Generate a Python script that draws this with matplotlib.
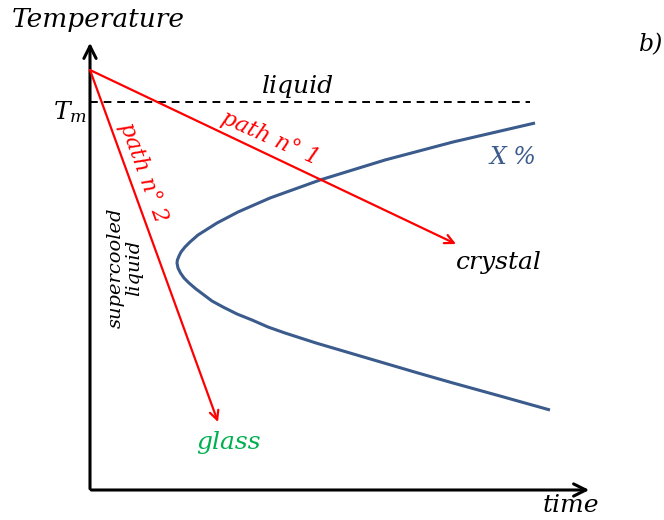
import numpy as np
import matplotlib.pyplot as plt

plt.rcParams['font.family'] = ['DejaVu Serif']
plt.rcParams['mathtext.fontset'] = 'dejavuserif'

# schematic data (time, temperature), arbitrary units
t_max, T_max = 502, 450
T_m = 388
start = (0, 420)
path1_end = (366, 246)
path2_end = (128, 68)

# X% curve (upper branch, nose, lower branch)
curve_time = [445, 363, 295, 230, 180, 148, 127, 108, 100, 95, 91, 89, 87.4, 87,
              88, 90.5, 94, 99, 106, 114, 122, 133, 147, 162, 178, 195, 226, 260,
              294, 328, 363, 410, 460]
curve_temp = [367, 348, 330, 310, 292, 278, 267, 255, 248, 243, 238, 234, 230, 227,
              222, 217, 212, 207, 201, 195, 189, 183, 176, 170, 163, 157, 147, 137,
              127, 117, 107, 94, 80]

RED = '#ff0000'
BLUE = '#3b5b8c'
GREEN = '#00b050'

fig = plt.figure(figsize=(6.64, 5.2), dpi=100)
ax = fig.add_axes([0, 0, 1, 1])
ax.set_xlim(-90, 574)
ax.set_ylim(-30, 490)
ax.axis('off')

# axes arrows
ax.annotate('', xy=(t_max, 0), xytext=(-1.5, 0),
            arrowprops=dict(arrowstyle='->', lw=2.2, color='black', mutation_scale=22))
ax.annotate('', xy=(0, T_max), xytext=(0, -1.5),
            arrowprops=dict(arrowstyle='->', lw=2.2, color='black', mutation_scale=22))

# melting temperature
ax.plot([0, 440], [T_m, T_m], ls=(0, (4, 3)), color='black', lw=1.4)

# X% curve
ax.plot(curve_time, curve_temp, color=BLUE, lw=2.2, solid_capstyle='butt',
        solid_joinstyle='round')

# cooling paths
for end in (path1_end, path2_end):
    ax.annotate('', xy=end, xytext=start,
                arrowprops=dict(arrowstyle='->', lw=1.6, color=RED, mutation_scale=16,
                                shrinkA=0, shrinkB=0))

fs = 18
ax.text(-78, 470, 'Temperature', style='italic', fontsize=19, va='center', ha='left')
ax.text(-3, 378, r'$T_m$', fontsize=fs, ha='right', va='center')
ax.text(208, 404, 'liquid', style='italic', fontsize=fs, ha='center', va='center')
ax.text(180, 352, 'path n° 1', style='italic', fontsize=16, color=RED,
        rotation=-24, rotation_mode='anchor', ha='center', va='center')
ax.text(53, 318, 'path n° 2', style='italic', fontsize=16, color=RED,
        rotation=-70, rotation_mode='anchor', ha='center', va='center')
ax.text(35, 222, 'supercooled\nliquid', style='italic', fontsize=14, rotation=90,
        ha='center', va='center', linespacing=1.0)
ax.text(423, 333, 'X %', style='italic', fontsize=17, color=BLUE, ha='center', va='center')
ax.text(409, 228, 'crystal', style='italic', fontsize=fs, ha='center', va='center')
ax.text(138, 48, 'glass', style='italic', fontsize=fs, color=GREEN, ha='center', va='center')
ax.text(481, -16, 'time', style='italic', fontsize=fs, ha='center', va='center')
ax.text(549, 445, 'b)', style='italic', fontsize=17, ha='left', va='center')

fig.savefig('out.png', dpi=100)
